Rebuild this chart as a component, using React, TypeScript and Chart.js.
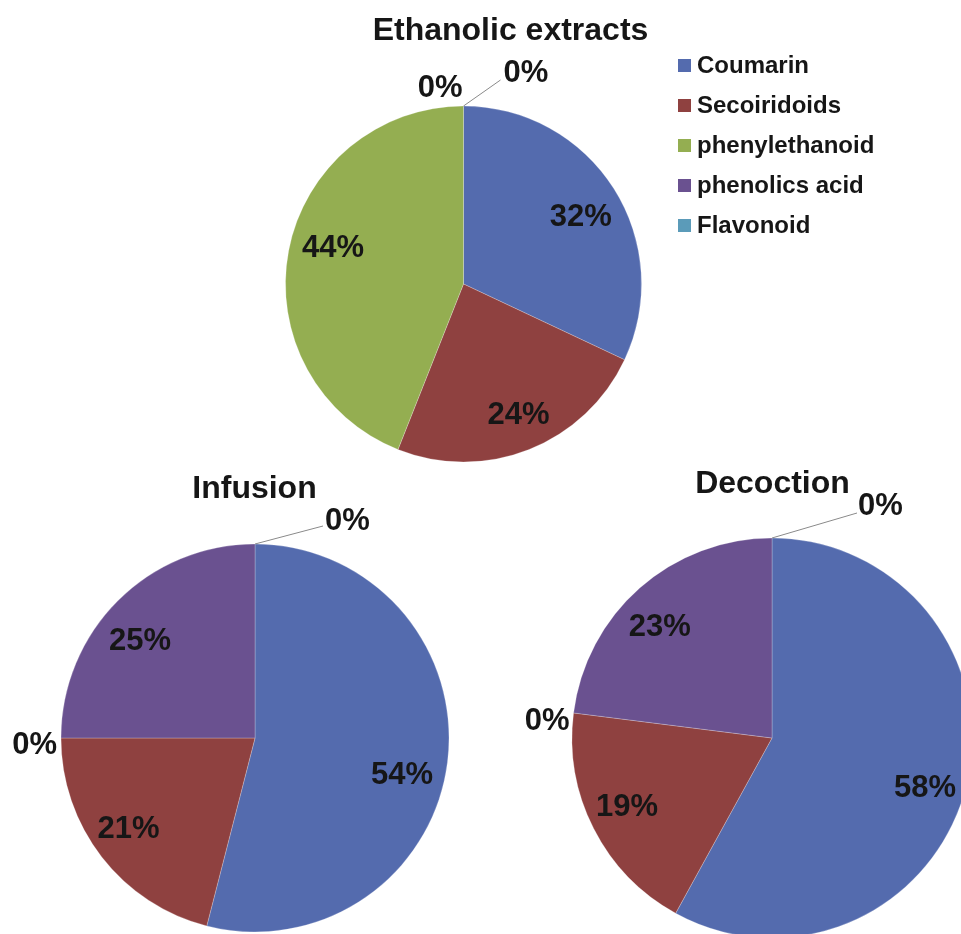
import React, { useEffect, useRef } from 'react';
import { Chart, registerables } from 'chart.js';

Chart.register(...registerables);

// ---- data ----
const categories = ['Coumarin', 'Secoiridoids', 'phenylethanoid', 'phenolics acid', 'Flavonoid'];
const ethanolicValues = [32, 24, 44, 0, 0];
const infusionValues = [54, 21, 0, 25, 0];
const decoctionValues = [58, 19, 0, 23, 0];
const sliceColors = ['#546BAE', '#8F4140', '#94AE51', '#6A5190', '#5B9BB9'];

// ---- layout / style ----
const W = 961;
const H = 934;
const FONT = '"Liberation Sans", Arial, Helvetica, sans-serif';
const TEXT_COLOR = '#161616';
const LABEL_SIZE = 31;
const TITLE_SIZE = 32;
const LEGEND_SIZE = 24;

type ZeroLabel = {
  index: number;
  dx: number;
  dy: number;
  align: CanvasTextAlign;
  leader?: [number, number];
};

type PieSpec = {
  key: string;
  title: string;
  values: number[];
  cx: number;
  cy: number;
  r: number;
  titleX: number;
  titleY: number;
  // small per-slice shifts of the inside labels (best-fit placement)
  labelShift: [number, number][];
  zeroLabels: ZeroLabel[];
  legend: boolean;
};

const pies: PieSpec[] = [
  {
    key: 'ethanolic',
    title: 'Ethanolic extracts',
    values: ethanolicValues,
    cx: 463.5,
    cy: 284,
    r: 178,
    titleX: 510.5,
    titleY: 40,
    labelShift: [[0, 5], [4, 0], [6, -12], [0, 0], [0, 0]],
    zeroLabels: [
      { index: 3, dx: -1, dy: -9, align: 'right' },
      { index: 4, dx: 40, dy: -24, align: 'left', leader: [37, -26] },
    ],
    legend: true,
  },
  {
    key: 'infusion',
    title: 'Infusion',
    values: infusionValues,
    cx: 255,
    cy: 738,
    r: 194,
    titleX: 254.5,
    titleY: 498,
    labelShift: [[-3, 16], [-7, -4], [0, 0], [-8, 8], [0, 0]],
    zeroLabels: [
      { index: 2, dx: -4, dy: 16, align: 'right' },
      { index: 4, dx: 70, dy: -14, align: 'left', leader: [68, -18] },
    ],
    legend: false,
  },
  {
    key: 'decoction',
    title: 'Decoction',
    values: decoctionValues,
    cx: 772,
    cy: 738,
    r: 200,
    titleX: 772.5,
    titleY: 493,
    labelShift: [[2, 9], [-6, -4], [0, 0], [-9, 4], [0, 0]],
    zeroLabels: [
      { index: 2, dx: -4, dy: 17, align: 'right' },
      { index: 4, dx: 86, dy: -23, align: 'left', leader: [85, -25] },
    ],
    legend: false,
  },
];

// Draws the title, the percentage labels (with leader lines for empty slices) and the legend.
const pieTextPlugin = {
  id: 'pieText',
  afterDatasetsDraw(chart: any, _args: any, opts: any) {
    const spec: PieSpec = opts.spec;
    if (!spec) return;
    const ctx: CanvasRenderingContext2D = chart.ctx;
    const meta = chart.getDatasetMeta(0);
    const data: number[] = chart.data.datasets[0].data;

    ctx.save();
    ctx.fillStyle = TEXT_COLOR;
    ctx.textBaseline = 'alphabetic';

    // title
    ctx.font = `bold ${TITLE_SIZE}px ${FONT}`;
    ctx.textAlign = 'center';
    ctx.fillText(spec.title, spec.titleX, spec.titleY);

    // slice labels
    ctx.font = `bold ${LABEL_SIZE}px ${FONT}`;
    meta.data.forEach((arc: any, i: number) => {
      const { x, y, startAngle, endAngle, outerRadius } = arc.getProps(
        ['x', 'y', 'startAngle', 'endAngle', 'outerRadius'],
        true
      );
      const value = data[i];
      const text = `${value}%`;
      if (value > 0) {
        const mid = (startAngle + endAngle) / 2;
        const [sx, sy] = spec.labelShift[i] || [0, 0];
        const px = x + Math.cos(mid) * outerRadius * 0.78 + sx;
        const py = y + Math.sin(mid) * outerRadius * 0.78 + sy;
        ctx.textAlign = 'center';
        ctx.fillText(text, px, py + LABEL_SIZE * 0.36);
      } else {
        const z = spec.zeroLabels.find((l) => l.index === i);
        if (!z) return;
        const ax = x + Math.cos(startAngle) * outerRadius;
        const ay = y + Math.sin(startAngle) * outerRadius;
        if (z.leader) {
          ctx.save();
          ctx.strokeStyle = '#8a8a8a';
          ctx.lineWidth = 1;
          ctx.beginPath();
          ctx.moveTo(ax, ay);
          ctx.lineTo(ax + z.leader[0], ay + z.leader[1]);
          ctx.stroke();
          ctx.restore();
        }
        ctx.textAlign = z.align;
        ctx.fillText(text, ax + z.dx, ay + z.dy);
      }
    });

    // legend
    if (spec.legend) {
      ctx.font = `bold ${LEGEND_SIZE}px ${FONT}`;
      ctx.textAlign = 'left';
      categories.forEach((name, i) => {
        const top = 59 + i * 40;
        ctx.fillStyle = sliceColors[i];
        ctx.fillRect(678, top, 13, 13);
        ctx.fillStyle = TEXT_COLOR;
        ctx.fillText(name, 697, top + 14);
      });
    }
    ctx.restore();
  },
};

function PieCanvas({ spec }: { spec: PieSpec }) {
  const ref = useRef<HTMLCanvasElement | null>(null);

  useEffect(() => {
    if (!ref.current) return;
    const padding = {
      left: Math.max(0, 2 * spec.cx - W),
      right: Math.max(0, W - 2 * spec.cx),
      top: Math.max(0, 2 * spec.cy - H),
      bottom: Math.max(0, H - 2 * spec.cy),
    };
    const chart = new Chart(ref.current, {
      type: 'pie',
      data: {
        labels: categories,
        datasets: [
          {
            data: spec.values,
            backgroundColor: sliceColors,
            borderColor: 'rgba(255,255,255,0.6)',
            borderWidth: 0.4,
            clip: false as any,
          },
        ],
      },
      options: {
        responsive: false,
        animation: false,
        events: [],
        radius: spec.r,
        layout: { padding },
        plugins: {
          legend: { display: false },
          tooltip: { enabled: false },
          title: { display: false },
          pieText: { spec },
        } as any,
      } as any,
      plugins: [pieTextPlugin],
    });
    return () => chart.destroy();
  }, [spec]);

  return (
    <canvas
      ref={ref}
      width={W}
      height={H}
      style={{ position: 'absolute', left: 0, top: 0, width: W, height: H }}
    />
  );
}

export default function App() {
  return (
    <div
      style={{
        position: 'absolute',
        left: 0,
        top: 0,
        width: W,
        height: H,
        overflow: 'hidden',
        background: '#ffffff',
      }}
    >
      {pies.map((p) => (
        <PieCanvas key={p.key} spec={p} />
      ))}
    </div>
  );
}
